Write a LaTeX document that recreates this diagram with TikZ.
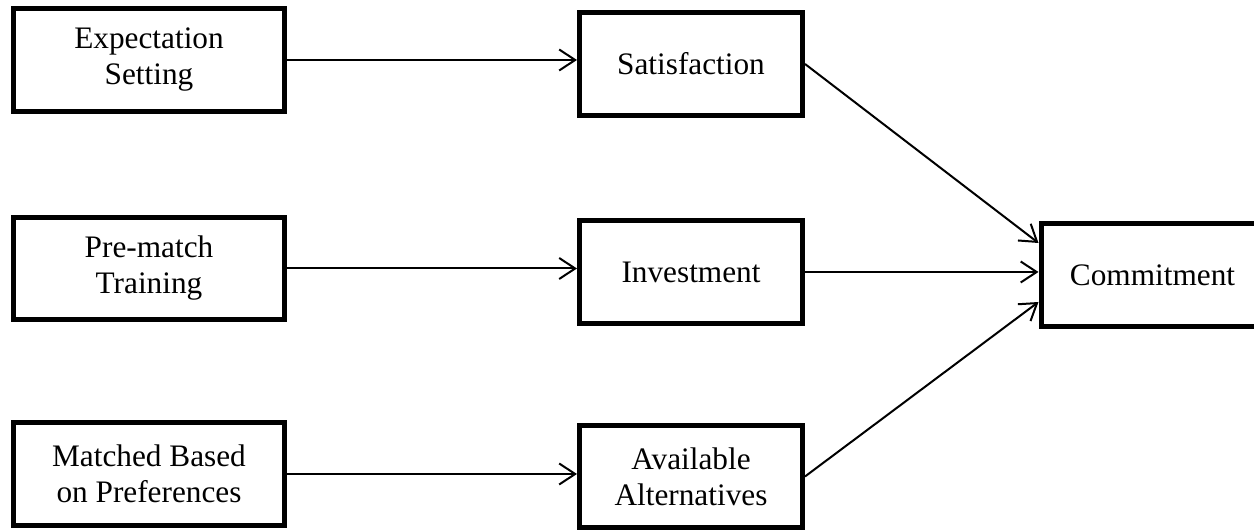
\documentclass[tikz,border=0pt]{standalone}
\usepackage{fontspec}
\setmainfont{Liberation Serif}
\usetikzlibrary{arrows.meta}

\tikzset{
  block/.style={draw, line width=0.1cm, minimum width=5.42cm, minimum height=2.05cm,
    align=center, font=\fontsize{17.8}{20.5}\selectfont},
  midblock/.style={block, minimum width=4.46cm},
  link/.style={line width=0.04cm, -{Straight Barb[length=0.32cm, width=0.42cm]}}
}

\begin{document}
\begin{tikzpicture}
	\useasboundingbox (0,0) rectangle (25.08,10.6);
	% left column
	\node[block] (exp) at (2.98,9.4) {Expectation\\Setting};
	\node[block] (pre) at (2.98,5.23) {Pre-match\\Training};
	\node[block] (mat) at (2.98,1.12) {Matched Based\\on Preferences};
	% middle column
	\node[midblock] (sat) at (13.82,9.32) {Satisfaction};
	\node[midblock] (inv) at (13.82,5.16) {Investment};
	\node[midblock] (ava) at (13.82,1.07) {Available\\Alternatives};
	% right
	\node[midblock] (com) at (23.05,5.1) {Commitment};
	\draw[link] (exp.east) -- (exp.east -| sat.west);
	\draw[link] (pre.east) -- (pre.east -| inv.west);
	\draw[link] (mat.east) -- (mat.east -| ava.west);
	\draw[link] (sat.east) -- ([yshift=0.64cm]com.west);
	\draw[link] (inv.east) -- (inv.east -| com.west);
	\draw[link] (ava.east) -- ([yshift=-0.54cm]com.west);
\end{tikzpicture}
\end{document}
